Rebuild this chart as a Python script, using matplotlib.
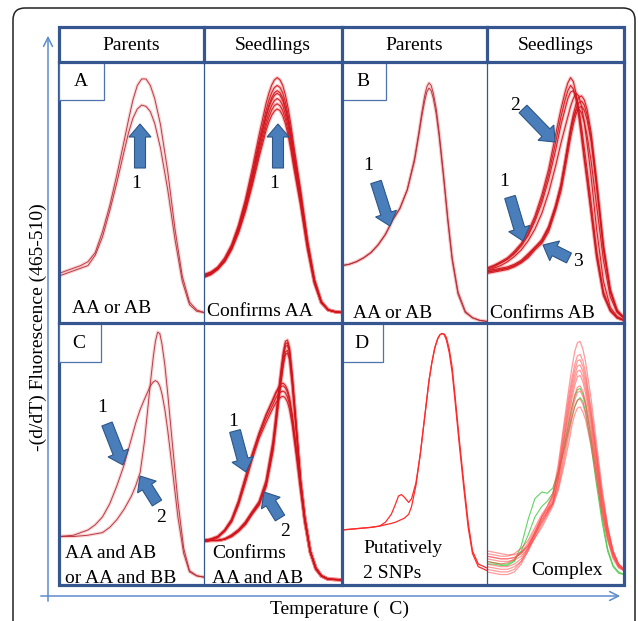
"""
plot.py - melt-curve figure: parents vs seedlings, panels A-D.
"""
import matplotlib
matplotlib.use("Agg")
import matplotlib.pyplot as plt
from matplotlib.patches import Rectangle, FancyBboxPatch

plt.rcParams["font.family"] = ["Liberation Serif", "DejaVu Serif"]

# ---------------------------------------------------------------- data
headers = ["Parents", "Seedlings", "Parents", "Seedlings"]

# panel A - parents
a_par_x = [0, 5, 10, 15, 20, 25, 30, 35, 40, 45, 48, 51, 54, 57, 60, 63, 66, 70, 75, 80, 85, 90, 95, 100]
a_par_y = [
    [19, 20, 21, 22, 23.5, 27, 35, 45, 57, 70, 78, 85.5, 91, 93.5, 93.5, 91, 86, 76, 58, 36, 18, 8, 5, 4],
    [18, 19, 20, 21, 22, 26, 33, 43, 54, 66, 73, 78.5, 82, 83.5, 83, 81, 76.5, 67, 51, 32, 16, 7, 4.5, 4],
]
# panel A - seedlings
a_seed_x = [0, 5, 10, 15, 20, 25, 30, 35, 40, 45, 47, 49, 51, 53, 55, 57, 59, 61, 63, 65,
            70, 75, 80, 85, 90, 95, 100]
a_seed_y = [
    [18.5, 19.5, 21.5, 25, 30, 37.5, 47.3, 59.3, 72.3, 84.2, 88, 91.1, 93.1, 94, 93.2, 91.1, 87.3, 82.2, 75.8, 68.3,
     51.1, 31.8, 16.9, 8.3, 5.1, 4.3, 4],
    [18, 19, 21.1, 24.3, 29.5, 36.8, 46.2, 57.6, 70.1, 81.6, 85.3, 88.2, 90.2, 91, 90.3, 88.2, 84.6, 79.6, 73.4, 66.2,
     49.6, 30.9, 16.4, 8.1, 5, 4.3, 4],
    [17.5, 18.5, 20.5, 24, 29, 36.3, 45.4, 56.5, 68.7, 79.9, 83.4, 86.3, 88.2, 89, 88.3, 86.3, 82.7, 77.9, 71.8, 64.7,
     48.5, 30.3, 16.2, 8, 5, 4.3, 4],
    [18, 19, 21, 24, 29, 36, 45, 56, 68, 79, 82.5, 85.3, 87.2, 88, 87.3, 85.3, 81.8, 77, 71, 64,
     48, 30, 16, 8, 5, 4.3, 4],
    [18.5, 19.5, 21, 23.8, 28.7, 35.5, 44.2, 54.9, 66.6, 77.2, 80.6, 83.3, 85.2, 86, 85.3, 83.4, 79.9, 75.3, 69.4, 62.6,
     46.9, 29.4, 15.7, 7.9, 5, 4.3, 4],
    [17.5, 18.9, 20.8, 23.7, 28.4, 35, 43.5, 53.8, 65.1, 75.5, 78.8, 81.5, 83.3, 84, 83.3, 81.4, 78.1, 73.5, 67.8, 61.1,
     45.9, 28.8, 15.4, 7.8, 5, 4.3, 4],
    [18, 18.9, 20.7, 23.5, 28.1, 34.5, 42.7, 52.7, 63.7, 73.8, 77, 79.5, 81.2, 82, 81.4, 79.5, 76.3, 71.8, 66.2, 59.7,
     44.9, 28.2, 15.1, 7.7, 5, 4.3, 4],
]

# panel B - parents
b_par_x = [0, 5, 10, 15, 20, 25, 30, 35, 40, 45, 50, 53, 55, 57, 58.5, 60, 61.5, 63, 65, 67,
           70, 73, 76, 80, 85, 90, 95, 100]
b_par_y = [
    [22, 22.5, 23.5, 25, 27, 30, 34, 39.5, 44, 51, 63, 73, 80.5, 87, 90.5, 92, 91, 88, 82, 73,
     57, 40, 25, 12, 4.5, 2, 1, 0.6],
    [22, 22.5, 23.5, 25, 27, 30, 34, 39.5, 44, 51, 62, 72, 79, 85, 88.5, 90, 89, 86, 80, 71.5,
     56, 39, 24, 11, 4, 2, 1, 0.6],
]
# panel B - seedlings
b_seed_x = [0, 5, 10, 15, 20, 25, 30, 35, 40, 45, 50, 54, 57, 59, 61, 63, 65, 67, 69, 71,
            73, 76, 80, 85, 90, 95, 100]
b_seed_y = [
    [21, 22, 23.5, 25, 27.5, 30.5, 35, 41, 49, 59, 72, 82, 88.5, 92, 94, 92.5, 88, 81, 73, 64,
     56, 43, 26, 11, 5, 2, 1],
    [20.5, 21.5, 23, 24.5, 27, 30, 34, 40, 47.5, 57, 69, 79, 85.5, 89, 91, 89.7, 85.5, 79, 71, 62.5,
     54.5, 42, 25, 10.5, 4.5, 2, 1],
    [21, 22, 23, 24.5, 26.5, 29.5, 33.5, 39, 46, 55, 66, 76, 82, 86, 88.5, 89, 87, 82, 75, 67,
     59, 46, 28, 12, 5, 2, 1],
    [20, 21, 22, 23.5, 25.5, 28, 31.5, 36, 42, 50, 60, 69, 75, 79, 83, 86, 88, 87, 83, 77,
     69, 56, 36, 16, 6, 2.5, 1.2],
    [19.5, 20, 20.5, 21, 22, 23.5, 26, 29, 31, 36, 44, 52, 61, 67, 73, 78, 82, 84.5, 85, 83.5,
     80, 71, 53, 29, 12, 4.5, 2],
    [20, 20.5, 21, 21.5, 22.5, 24, 26.5, 29, 32, 37, 45, 53, 62, 68.5, 74.5, 80, 84, 86.5, 87, 85.5,
     82, 73, 55, 30, 13, 5, 2],
    [19, 19.5, 20, 20.5, 21.5, 23, 25, 28, 30.5, 35, 43, 50.5, 59, 65, 71, 76, 80, 82.5, 83, 81.5,
     78, 69.5, 52, 28, 12, 4.5, 2],
    [19.5, 20, 20.5, 21, 22, 23.5, 25.5, 28.5, 31.5, 36.5, 44.5, 53, 62, 68, 74, 78.5, 81.5, 82, 80.5, 77,
     72, 62, 45, 24, 10, 4, 1.8],
]

# panel C - parents
c_par_x = [0, 10, 20, 25, 30, 35, 40, 45, 50, 53, 56, 59, 61, 63, 65, 66.5, 68, 69.5, 71, 73,
           75, 78, 82, 86, 90, 95, 100]
c_par_y = [
    [18.5, 19, 21, 23, 26, 31, 38, 46, 56, 62, 67, 71, 73.5, 76, 77.5, 78, 77.5, 76, 73, 67,
     59, 45, 26, 12, 5, 3.5, 3],
    [18.5, 18.5, 19, 19.5, 20, 22, 25, 29, 34, 38, 43, 55, 66, 77, 87, 93, 96.5, 96, 92, 84,
     73, 55, 32, 14, 5.5, 3.5, 3],
]
# panel C - seedlings
c_seed_x = [0, 5, 10, 15, 20, 25, 30, 35, 40, 45, 50, 52, 54, 56, 57.5, 59, 60.5, 62, 64, 67,
            70, 73, 77, 81, 85, 90, 100]
c_seed_y = [
    [17, 17.5, 18.5, 21, 25, 32, 41, 50, 58, 65, 71, 73.5, 75.5, 76.8, 77, 76.2, 74.5, 71.5, 65, 52,
     38, 25.5, 13, 6.5, 3.5, 2.2, 2],
    [17, 17.5, 18.5, 21, 25, 32, 41, 50, 58, 65, 70.5, 73, 74.8, 75.8, 76, 75.2, 73.5, 70.5, 64, 51,
     37.5, 25, 13, 6.5, 3.5, 2.2, 2],
    [16.5, 17, 18, 20.5, 24.5, 31, 40, 49, 57, 63.5, 69, 71.3, 73, 73.8, 74, 73.3, 71.7, 69, 62.5, 50,
     37, 24.5, 12.5, 6, 3.5, 2.2, 2],
    [17, 17.5, 18.5, 20.5, 24, 30.5, 39, 48, 56, 62, 67.5, 69.5, 71, 71.8, 72, 71.3, 69.8, 67, 61, 49,
     36, 24, 12.5, 6, 3.5, 2.2, 2],
    [17, 17, 17, 17.5, 19, 21, 24, 28, 32, 40, 55, 64, 74, 83, 89, 93, 93.5, 90.5, 80, 60,
     40, 26, 13, 6.5, 3.5, 2.2, 2],
    [17, 17, 17, 17.5, 19, 21, 24, 28, 31.5, 39, 54, 63, 73, 82, 88, 92, 92.5, 89.5, 79, 59.5,
     40, 26, 13, 6.5, 3.5, 2.2, 2],
    [16.5, 17, 17, 17.5, 19, 21, 23.5, 27.5, 31, 38.5, 53, 62, 72, 81, 87, 91, 91.5, 88.5, 78, 59,
     39.5, 25.5, 12.5, 6.5, 3.5, 2.2, 2],
    [17, 17, 17, 17.5, 18.5, 20.5, 23.5, 27.5, 31, 38, 52, 61, 70.5, 79, 85, 89, 89.5, 87, 77, 58,
     39, 25.5, 12.5, 6.5, 3.5, 2.2, 2],
    [17, 17, 17, 17.5, 18.5, 20.5, 23, 27, 30.5, 37.5, 51, 60, 69.5, 78, 84, 88, 88.5, 86, 76, 57.5,
     39, 25, 12.5, 6.5, 3.5, 2.2, 2],
]

# panel D - parents
d_par_x = [0, 10, 20, 26, 30, 34, 37, 39, 41, 43, 46, 48, 51, 54, 57, 60, 62, 64, 66, 67.5,
           69, 70.5, 72, 74, 76, 78, 81, 84, 87, 90, 94, 100]
d_par_y = [
    [21, 21.5, 22, 22.5, 24, 27, 31, 34, 34.5, 33.5, 31.5, 33, 39, 50, 64, 78, 85, 90.5, 94, 95.5,
     96, 95.5, 93.5, 88.5, 81, 70, 53, 37, 22, 12, 7, 5.5],
    [21, 21.5, 22, 22.5, 23, 23.5, 24, 24.5, 25, 25.5, 27, 30, 38, 50, 64, 78, 85, 90.5, 94, 95.5,
     96, 95.8, 94.5, 90, 83, 72, 55, 39, 24, 13, 8, 6.5],
]
# panel D - seedlings
d_seed_x = [0, 5, 10, 15, 20, 25, 30, 35, 40, 44, 48, 52, 56, 60, 62, 64, 66, 68, 70, 72,
            76, 80, 84, 88, 92, 96, 100]
d_seed_red = [
    [12, 11.5, 11, 11, 12, 14, 17, 22, 27, 30, 35, 46, 61, 76, 83, 89, 92.5, 93, 90, 85, 71, 54, 37, 23, 13, 8, 6],
    [9, 8.5, 8, 8.5, 10, 12.5, 16, 21, 26, 29, 34, 44, 59, 73, 79, 84, 87.5, 88, 85.5, 81, 67, 51, 35, 22, 13, 8, 6],
    [11, 10.5, 10, 10, 10.5, 12, 15, 20, 25, 28, 33, 43, 57, 71, 77, 82, 85.5, 86, 83.5, 79, 66, 50, 34, 22, 13, 8, 6],
    [13, 12.5, 12, 11.5, 11.5, 12.5, 15, 19.5, 24, 27, 31, 41, 55, 69, 75, 80, 83.5, 84, 81.5, 77, 64, 49, 33, 21, 12.5, 8, 6],
    [6, 5.5, 5, 5, 6, 9, 14, 20, 26, 30, 34, 43, 55, 67, 73, 78, 81.5, 82, 79.5, 75, 63, 48, 32, 20, 12, 7.5, 5.5],
    [10, 9.5, 9, 9, 9.5, 11, 14, 18, 23, 27, 31, 40, 53, 65, 71, 76, 79.5, 80, 77.5, 73, 61, 46, 31, 20, 12, 7.5, 5.5],
    [5, 4.5, 4, 4, 5, 8, 13, 19, 24, 28, 32, 40, 51, 62, 68, 72.5, 75.5, 76, 74, 70, 59, 45, 30, 19, 11, 7, 5.5],
    [8, 7.5, 7, 7, 8, 10, 14, 19, 25, 28, 31, 38, 49, 60, 66, 70.5, 73.5, 74, 72, 68, 57, 44, 29, 18, 11, 7, 5.5],
    [11, 10.5, 10, 10, 10.5, 12, 15, 20, 26, 29, 31, 37, 47, 58, 63.5, 68, 70.5, 71, 69, 65, 55, 42, 28, 18, 11, 7, 5.5],
    [7, 6.5, 6, 6, 7, 9, 13, 18, 22, 26, 30, 36, 45, 55, 61, 65, 67.5, 68, 66, 63, 53, 40, 27, 17, 10, 6.5, 5.5],
]
d_seed_green = [
    [8, 8, 7.5, 7.5, 9, 15, 25, 33, 35.5, 35, 37, 43, 51, 60, 64, 68, 70.5, 71.5, 70, 66, 53, 38, 24, 13, 7, 4.5, 4],
    [9, 8.5, 8, 8, 9.5, 13, 19, 26, 30, 32, 35, 42, 52, 63, 68, 72, 74.5, 75, 73, 69, 56, 41, 26, 14, 7.5, 5, 4],
]

panel_notes = {
    "A": [("AA or AB", 72, 313), ("Confirms AA", 207, 316)],
    "B": [("AA or AB", 353, 318), ("Confirms AB", 490, 318)],
    "C": [("AA and AB", 65, 558), ("or AA and BB", 65, 583),
          ("Confirms", 212, 558), ("AA and AB", 212, 583)],
    "D": [("Putatively", 363, 553), ("2 SNPs", 363, 578), ("Complex", 531, 575)],
}

# ---------------------------------------------------------------- layout (pixels)
W, H = 638, 621
L, R, T, HB, MID, B = 59, 624, 27, 62, 323, 585
C1, C2, C3 = 204, 342, 487
FRAME = "#35568F"
AXBLUE = "#5B8CCB"
ARROW_FC = "#4A7EBB"
ARROW_EC = "#2C5687"

fig = plt.figure(figsize=(W / 100, H / 100), dpi=100)
fig.patch.set_facecolor("white")


def cell_axes(x0, y0, x1, y1):
    ax = fig.add_axes([x0 / W, 1 - y1 / H, (x1 - x0) / W, (y1 - y0) / H])
    ax.set_xlim(0, 100)
    ax.set_ylim(0, 100)
    ax.axis("off")
    return ax


def draw_dark(ax, x, curves, halo="#F3A5A5", core="#B52A36", lw=0.7):
    for y in curves:
        ax.plot(x, y, color=halo, lw=2.4, alpha=0.45, solid_capstyle="round")
    for y in curves:
        ax.plot(x, y, color=core, lw=lw, alpha=0.9)


# A
ax = cell_axes(L, HB, C1, MID)
draw_dark(ax, a_par_x, a_par_y)
ax = cell_axes(C1, HB, C2, MID)
draw_dark(ax, a_seed_x, a_seed_y, halo="#F27A7A", core="#D0141C", lw=0.8)
# B
ax = cell_axes(C2, HB, C3, MID)
draw_dark(ax, b_par_x, b_par_y)
ax = cell_axes(C3, HB, R, MID)
draw_dark(ax, b_seed_x, b_seed_y, halo="#F27A7A", core="#D0141C", lw=0.8)
# C
ax = cell_axes(L, MID, C1, B)
draw_dark(ax, c_par_x, c_par_y)
ax = cell_axes(C1, MID, C2, B)
draw_dark(ax, c_seed_x, c_seed_y, halo="#F27A7A", core="#D0141C", lw=0.8)
# D
ax = cell_axes(C2, MID, C3, B)
for y in d_par_y:
    ax.plot(d_par_x, y, color="#FF2B2B", lw=0.9)
ax = cell_axes(C3, MID, R, B)
for y in d_seed_green:
    ax.plot(d_seed_x, y, color="#3CC83C", lw=0.8, alpha=0.8)
for y in d_seed_red:
    ax.plot(d_seed_x, y, color="#FF4A4A", lw=0.9, alpha=0.55)

# ---------------------------------------------------------------- overlay: frame, labels, arrows
ov = fig.add_axes([0, 0, 1, 1], zorder=5)
ov.set_xlim(0, W)
ov.set_ylim(H, 0)
ov.axis("off")

ov.add_patch(FancyBboxPatch((13, 8), 622, 660, boxstyle="round,pad=0,rounding_size=12",
                            fill=False, ec="#222222", lw=1.1))

# axis arrows
ov.annotate("", xy=(48, 33), xytext=(48, 604),
            arrowprops=dict(arrowstyle="->", color=AXBLUE, lw=1.1, mutation_scale=16))
ov.annotate("", xy=(623, 596), xytext=(38, 596),
            arrowprops=dict(arrowstyle="->", color=AXBLUE, lw=1.1, mutation_scale=16))
ov.text(38, 327, "-(d/dT) Fluorescence (465-510)", rotation=90, ha="center", va="center",
        fontsize=14)
ov.text(340, 609, "Temperature (  C)", ha="center", va="center", fontsize=14)

# grid frame
thick, thin = 2.3, 0.9
ov.add_patch(Rectangle((L, T), R - L, B - T, fill=False, ec=FRAME, lw=thick))
ov.plot([L, R], [HB, HB], color=FRAME, lw=thick)
ov.plot([L, R], [MID, MID], color=FRAME, lw=thick)
ov.plot([C2, C2], [T, B], color=FRAME, lw=thick)
for cx in (C1, C3):
    ov.plot([cx, cx], [T, HB], color=FRAME, lw=thick)
    ov.plot([cx, cx], [HB, B], color=FRAME, lw=thin)

col_edges = [L, C1, C2, C3, R]
for i, h in enumerate(headers):
    ov.text((col_edges[i] + col_edges[i + 1]) / 2, 45, h, ha="center", va="center", fontsize=14)

# panel letter boxes
for letter, (bx, by, bw, bh) in {"A": (L, HB, 45, 38), "B": (C2, HB, 44, 38),
                                 "C": (L, MID, 42, 39), "D": (C2, MID, 41, 39)}.items():
    ov.add_patch(Rectangle((bx, by), bw, bh, fc="white", ec="#4F73AE", lw=0.9))
    ov.text(bx + bw / 2 - 1, by + bh / 2 + 1, letter, ha="center", va="center", fontsize=14)

for notes in panel_notes.values():
    for txt, tx, ty in notes:
        ov.text(tx, ty, txt, ha="left", va="baseline", fontsize=14)

# block arrows: (tail, tip, number, number position)
block_arrows = [
    ((140, 168), (140, 124), "1", (136, 183)),
    ((278, 168), (278, 124), "1", (274, 183)),
    ((376, 182), (390, 226), "1", (368, 166)),
    ((523, 109), (555, 142), "2", (515, 105)),
    ((510, 197), (523, 241), "1", (504, 182)),
    ((569, 258), (543, 245), "3", (578, 261)),
    ((107, 424), (123, 465), "1", (102, 407)),
    ((157, 503), (140, 476), "2", (161, 517)),
    ((235, 431), (246, 472), "1", (233, 421)),
    ((280, 518), (264, 492), "2", (285, 531)),
]
for (x0, y0), (x1, y1), num, (nx, ny) in block_arrows:
    ov.arrow(x0, y0, x1 - x0, y1 - y0, width=11, head_width=22, head_length=13,
             length_includes_head=True, fc=ARROW_FC, ec=ARROW_EC, lw=0.8)
    ov.text(nx, ny, num, ha="center", va="center", fontsize=14)

fig.savefig("out.png", dpi=100, facecolor="white")
